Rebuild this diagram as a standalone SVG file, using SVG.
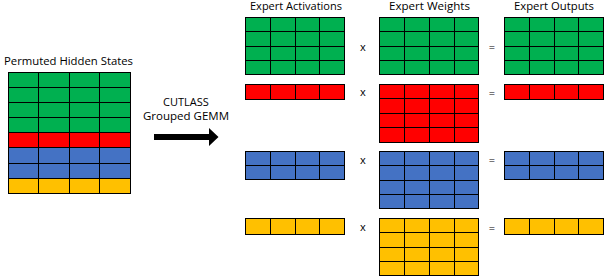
<svg xmlns="http://www.w3.org/2000/svg" width="608" height="280" viewBox="0 0 608 280">
<style>
.t{font-family:"Open Sans","Liberation Sans",sans-serif;font-size:10.5px;fill:#000}
.op{font-family:"Open Sans","Liberation Sans",sans-serif;font-size:11px;fill:#000;text-anchor:middle}
.g{fill:#00B050}.r{fill:#FF0000}.b{fill:#4472C4}.y{fill:#FFC000}
.m{stroke:#000;stroke-width:1}
.ln{stroke:#000;stroke-width:1;fill:none}
</style>
<rect width="608" height="280" fill="#fff"/>

<g id="hidden-states">
<text class="t" x="4" y="64.5" textLength="129" lengthAdjust="spacingAndGlyphs">Permuted Hidden States</text>
<rect class="g m" x="8.5" y="72.5" width="122" height="60"/>
<rect class="r m" x="8.5" y="132.5" width="122" height="15"/>
<rect class="b m" x="8.5" y="147.5" width="122" height="31"/>
<rect class="y m" x="8.5" y="178.5" width="122" height="15"/>
<path class="ln" d="M8.5 87.5H130.5M8.5 102.5H130.5M8.5 117.5H130.5M8.5 163.5H130.5M38.5 72.5V193.5M69.5 72.5V193.5M99.5 72.5V193.5"/>
</g>

<g id="connectors">
<polygon id="arrow" points="154,134 209,134 209,128 218.5,137 209,146 209,140 154,140" fill="#000"/>
<text class="op" x="186" y="105.5">CUTLASS</text>
<text class="op" x="186" y="119.5" textLength="86" lengthAdjust="spacingAndGlyphs">Grouped GEMM</text>
</g>

<g id="titles">
<text class="t" x="250" y="10" textLength="92" lengthAdjust="spacingAndGlyphs">Expert Activations</text>
<text class="t" x="389" y="10" textLength="81" lengthAdjust="spacingAndGlyphs">Expert Weights</text>
<text class="t" x="514" y="10" textLength="80" lengthAdjust="spacingAndGlyphs">Expert Outputs</text>
</g>

<g id="expert-green">
<rect class="g m" x="245.5" y="17.5" width="99" height="57"/>
<path class="ln" d="M245.5 31.5H344.5M245.5 46.5H344.5M245.5 60.5H344.5M270.5 17.5V74.5M295.5 17.5V74.5M319.5 17.5V74.5"/>
<text class="op" x="363" y="50.5">x</text>
<rect class="g m" x="379.5" y="17.5" width="99" height="57"/>
<path class="ln" d="M379.5 31.5H478.5M379.5 46.5H478.5M379.5 60.5H478.5M404.5 17.5V74.5M429.5 17.5V74.5M454.5 17.5V74.5"/>
<text class="op" x="492" y="51">=</text>
<rect class="g m" x="504.5" y="17.5" width="99" height="57"/>
<path class="ln" d="M504.5 31.5H603.5M504.5 46.5H603.5M504.5 60.5H603.5M529.5 17.5V74.5M554.5 17.5V74.5M578.5 17.5V74.5"/>
</g>

<g id="expert-red">
<rect class="r m" x="245.5" y="84.5" width="99" height="15"/>
<path class="ln" d="M270.5 84.5V99.5M295.5 84.5V99.5M319.5 84.5V99.5"/>
<text class="op" x="363" y="96">x</text>
<rect class="r m" x="379.5" y="84.5" width="99" height="58"/>
<path class="ln" d="M379.5 98.5H478.5M379.5 113.5H478.5M379.5 127.5H478.5M404.5 84.5V142.5M429.5 84.5V142.5M454.5 84.5V142.5"/>
<text class="op" x="492" y="96.5">=</text>
<rect class="r m" x="504.5" y="84.5" width="99" height="15"/>
<path class="ln" d="M529.5 84.5V99.5M554.5 84.5V99.5M578.5 84.5V99.5"/>
</g>

<g id="expert-blue">
<rect class="b m" x="245.5" y="151.5" width="99" height="28"/>
<path class="ln" d="M245.5 165.5H344.5M270.5 151.5V179.5M295.5 151.5V179.5M319.5 151.5V179.5"/>
<text class="op" x="363" y="163.5">x</text>
<rect class="b m" x="379.5" y="151.5" width="99" height="57"/>
<path class="ln" d="M379.5 165.5H478.5M379.5 180.5H478.5M379.5 194.5H478.5M404.5 151.5V208.5M429.5 151.5V208.5M454.5 151.5V208.5"/>
<text class="op" x="492" y="164">=</text>
<rect class="b m" x="504.5" y="151.5" width="99" height="28"/>
<path class="ln" d="M504.5 165.5H603.5M529.5 151.5V179.5M554.5 151.5V179.5M578.5 151.5V179.5"/>
</g>

<g id="expert-yellow">
<rect class="y m" x="245.5" y="218.5" width="99" height="16"/>
<path class="ln" d="M270.5 218.5V234.5M295.5 218.5V234.5M319.5 218.5V234.5"/>
<text class="op" x="363" y="231">x</text>
<rect class="y m" x="379.5" y="218.5" width="99" height="57"/>
<path class="ln" d="M379.5 232.5H478.5M379.5 247.5H478.5M379.5 261.5H478.5M404.5 218.5V275.5M429.5 218.5V275.5M454.5 218.5V275.5"/>
<text class="op" x="492" y="231.5">=</text>
<rect class="y m" x="504.5" y="218.5" width="99" height="16"/>
<path class="ln" d="M529.5 218.5V234.5M554.5 218.5V234.5M578.5 218.5V234.5"/>
</g>
</svg>
